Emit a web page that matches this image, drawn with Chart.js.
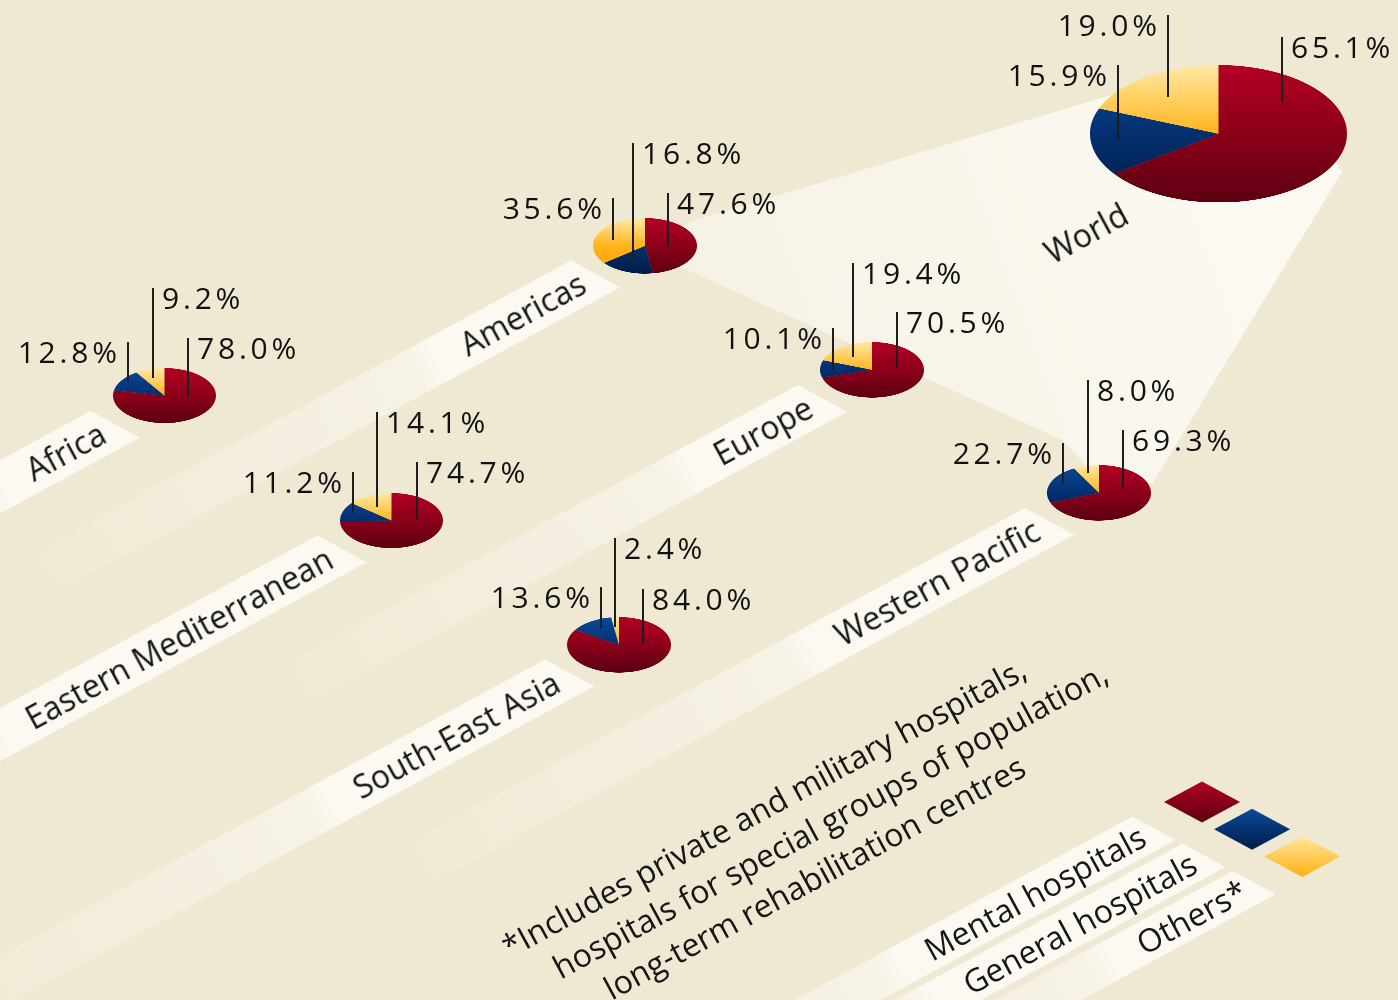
<!DOCTYPE html>
<html>
<head>
<meta charset="utf-8">
<script src="https://cdn.jsdelivr.net/npm/chart.js@4.4.1/dist/chart.umd.min.js"></script>
<style>
  html, body { margin: 0; padding: 0; background: #efe8d3; }
  #stage { position: relative; width: 1398px; height: 1000px; overflow: hidden;
           background: #efe8d3; font-family: 'Open Sans', sans-serif; color: #161616; }
  #bg { position: absolute; left: 0; top: 0; }
  .pie { position: absolute; }
  .pie canvas { transform-origin: 0 0; }
  .lead { position: absolute; width: 2px; background: #1e1e1e; }
  .pct { position: absolute; font-size: 30px; font-weight: 500; line-height: 1; letter-spacing: 3.8px; white-space: nowrap; color: #111; }
  .rot { position: absolute; width: 0; height: 0; transform-origin: 0 0; }
  .rot span { position: absolute; left: 0; top: 0; white-space: nowrap; line-height: 1; }
</style>
</head>
<body>
<div id="stage">
  <canvas id="bg" width="1398" height="1000"></canvas>
</div>
<script>
// data
var regions = ['World', 'Americas', 'Europe', 'Africa', 'Eastern Mediterranean', 'Western Pacific', 'South-East Asia'];
var mentalHospitals  = [65.1, 47.6, 70.5, 78.0, 74.7, 69.3, 84.0];
var generalHospitals = [15.9, 16.8, 10.1, 12.8, 11.2, 22.7, 13.6];
var otherHospitals   = [19.0, 35.6, 19.4,  9.2, 14.1,  8.0,  2.4];
var seriesNames = ['Mental hospitals', 'General hospitals', 'Others*'];
var footnote = ['*Includes private and military hospitals,',
                'hospitals for special groups of population,',
                'long-term rehabilitation centres'];

// layout
var pieCenters = [[1218, 134], [645, 245.5], [872, 370], [164.5, 396], [391.5, 520.5], [1099, 493], [619, 644.5]];
var pieRadius  = [128.5, 52, 52, 51.5, 51.5, 52, 52];
var TILT = 0.535;
// leader lines per region: mental, general, others -> [x, top, bottom, label side]
var leaders = [
  [[1282, 37, 102, 'R'], [1118, 65, 140, 'L'], [1168, 15, 97, 'L']],
  [[668, 193, 247, 'R'], [633, 143, 263, 'R'], [613, 198, 240, 'L']],
  [[897, 312, 368, 'R'], [833, 328, 370, 'L'], [853, 263, 357, 'R']],
  [[188, 338, 397, 'R'], [128, 342, 382, 'L'], [153, 288, 378, 'R']],
  [[417, 462, 520, 'R'], [353, 472, 513, 'L'], [377, 412, 507, 'R']],
  [[1123, 430, 488, 'R'], [1063, 443, 483, 'L'], [1088, 380, 473, 'R']],
  [[643, 589, 643, 'R'], [601, 587, 628, 'L'], [615, 538, 627, 'R']]
];
var legendOrigin = [1202, 802];
var footStart = [510, 959];

var ANG = 28.5 * Math.PI / 180;
var U = [Math.cos(ANG), -Math.sin(ANG)];
var V = [Math.cos(ANG), Math.sin(ANG)];
var BG = '#efe8d3';
var LIGHT = '251,249,242';
var LABEL_FONT = 32;

var sliceColors = [
  ['#b30024', '#8c001a', '#5c0011'],
  ['#0b4a9a', '#03306f', '#011c48'],
  ['#ffe9a6', '#ffb51c', '#ff9c00']
];

var stage = document.getElementById('stage');
var bg = document.getElementById('bg');
var ctx = bg.getContext('2d');

function textWidth(txt, size) {
  ctx.font = size + 'px "Open Sans"';
  return ctx.measureText(txt).width;
}

function drawBand(T, w, solidLen, fadeLen) {
  var L = solidLen + fadeLen;
  var R = [T[0] + V[0] * w, T[1] + V[1] * w];
  var M = [(T[0] + R[0]) / 2, (T[1] + R[1]) / 2];
  var g = ctx.createLinearGradient(M[0], M[1], M[0] - U[0] * L, M[1] - U[1] * L);
  g.addColorStop(0, 'rgba(' + LIGHT + ',1)');
  g.addColorStop(solidLen / L, 'rgba(' + LIGHT + ',1)');
  g.addColorStop((solidLen + 30) / L, 'rgba(' + LIGHT + ',0.6)');
  g.addColorStop(1, 'rgba(' + LIGHT + ',0)');
  ctx.fillStyle = g;
  ctx.beginPath();
  ctx.moveTo(T[0], T[1]);
  ctx.lineTo(R[0], R[1]);
  ctx.lineTo(R[0] - U[0] * L, R[1] - U[1] * L);
  ctx.lineTo(T[0] - U[0] * L, T[1] - U[1] * L);
  ctx.closePath();
  ctx.fill();
  return M;
}

function addRotText(txt, x, y, size, align) {
  var d = document.createElement('div');
  d.className = 'rot';
  d.style.left = x + 'px';
  d.style.top = y + 'px';
  d.style.transform = 'rotate(' + (-ANG * 180 / Math.PI) + 'deg)';
  var s = document.createElement('span');
  s.textContent = txt;
  s.style.fontSize = size + 'px';
  if (align == 'right') s.style.transform = 'translate(-100%,-50%)';
  else if (align == 'center') s.style.transform = 'translate(-50%,-50%)';
  else s.style.transform = 'translate(0,-0.888em)'; // baseline on anchor
  d.appendChild(s);
  stage.appendChild(d);
}

// background, light beam towards the world pie
ctx.fillStyle = BG;
ctx.fillRect(0, 0, 1398, 1000);
var beam = [[1108, 96], [690, 222], [650, 245], [683, 268],
            [1062, 440], [1100, 480], [1152, 484], [1342, 172], [1300, 100]];
var bg1 = ctx.createLinearGradient(1218, 134, 680, 330);
bg1.addColorStop(0, 'rgba(' + LIGHT + ',1)');
bg1.addColorStop(1, 'rgba(' + LIGHT + ',0.55)');
ctx.fillStyle = bg1;
ctx.beginPath();
beam.forEach(function (p, k) { if (k == 0) ctx.moveTo(p[0], p[1]); else ctx.lineTo(p[0], p[1]); });
ctx.closePath();
ctx.fill();

// region bands and labels
for (var i = 1; i < regions.length; i++) {
  var c = pieCenters[i];
  var T = [c[0] - 74, c[1] + 15];
  var tw = textWidth(regions[i], LABEL_FONT);
  var M = drawBand(T, 56, tw + 40, 480);
  addRotText(regions[i], M[0] - U[0] * 14, M[1] - U[1] * 14, LABEL_FONT, 'right');
}
addRotText(regions[0], 1086, 233, LABEL_FONT, 'center');

// legend: bands, labels, swatches
for (var k = 0; k < seriesNames.length; k++) {
  var sc = [legendOrigin[0] + V[0] * 57 * k, legendOrigin[1] + V[1] * 57 * k];
  var LT = [sc[0] - 69.5, sc[1] + 14.5];
  var lw = textWidth(seriesNames[k], LABEL_FONT);
  var LM = drawBand(LT, 49, lw + 40, 420);
  addRotText(seriesNames[k], LM[0] - U[0] * 12, LM[1] - U[1] * 12, LABEL_FONT, 'right');
  var hw = 38, hh = 20.5;
  var sg = ctx.createLinearGradient(0, sc[1] - hh, 0, sc[1] + hh);
  if (k == 2) { sg.addColorStop(0, '#ffe6a0'); sg.addColorStop(1, '#ffb10f'); }
  else { sg.addColorStop(0, sliceColors[k][0]); sg.addColorStop(1, sliceColors[k][2]); }
  ctx.fillStyle = sg;
  ctx.beginPath();
  ctx.moveTo(sc[0] - hw, sc[1]);
  ctx.lineTo(sc[0], sc[1] - hh);
  ctx.lineTo(sc[0] + hw, sc[1]);
  ctx.lineTo(sc[0], sc[1] + hh);
  ctx.closePath();
  ctx.fill();
}

// footnote
footnote.forEach(function (line, n) {
  addRotText(line, footStart[0] + 51 * n, footStart[1] + 21 * n, 32, 'left');
});

// pies
function pieFill(c) {
  var chart = c.chart, area = chart.chartArea;
  var stops = sliceColors[c.dataIndex];
  if (!area) return stops[1];
  var g = chart.ctx.createLinearGradient(0, area.top, 0, area.bottom);
  g.addColorStop(0, stops[0]);
  g.addColorStop(0.5, stops[1]);
  g.addColorStop(1, stops[2]);
  return g;
}

var charts = [];
regions.forEach(function (name, i) {
  var r = pieRadius[i], c = pieCenters[i];
  var wrap = document.createElement('div');
  wrap.className = 'pie';
  wrap.style.left = (c[0] - r) + 'px';
  wrap.style.top = (c[1] - r * TILT) + 'px';
  wrap.style.width = (2 * r) + 'px';
  wrap.style.height = (2 * r * TILT) + 'px';
  var cv = document.createElement('canvas');
  cv.width = 2 * r;
  cv.height = 2 * r;
  wrap.appendChild(cv);
  stage.appendChild(wrap);
  var chart = new Chart(cv, {
    type: 'pie',
    data: {
      labels: seriesNames,
      datasets: [{
        data: [mentalHospitals[i], generalHospitals[i], otherHospitals[i]],
        backgroundColor: pieFill,
        borderWidth: 0,
        hoverOffset: 0,
        offset: 0
      }]
    },
    options: {
      responsive: false,
      animation: false,
      devicePixelRatio: 2,
      events: [],
      layout: { padding: 0 },
      plugins: { legend: { display: false }, tooltip: { enabled: false } }
    }
  });
  cv.style.transform = 'scaleY(' + TILT + ')';
  charts.push(chart);
});

// leader lines and percentage labels
var seriesValues = [mentalHospitals, generalHospitals, otherHospitals];
var LS = 3.8;
regions.forEach(function (name, i) {
  leaders[i].forEach(function (ld, s) {
    var line = document.createElement('div');
    line.className = 'lead';
    line.style.left = (ld[0] - 1) + 'px';
    line.style.top = ld[1] + 'px';
    line.style.height = (ld[2] - ld[1]) + 'px';
    stage.appendChild(line);
    var lab = document.createElement('div');
    lab.className = 'pct';
    lab.textContent = seriesValues[s][i].toFixed(1) + '%';
    lab.style.top = (ld[1] + 22 - 0.888 * 30) + 'px';
    if (ld[3] == 'L') {
      lab.style.left = (ld[0] - 11 + LS) + 'px';
      lab.style.transform = 'translateX(-100%)';
    } else {
      lab.style.left = (ld[0] + 9) + 'px';
    }
    stage.appendChild(lab);
  });
});
</script>
</body>
</html>
